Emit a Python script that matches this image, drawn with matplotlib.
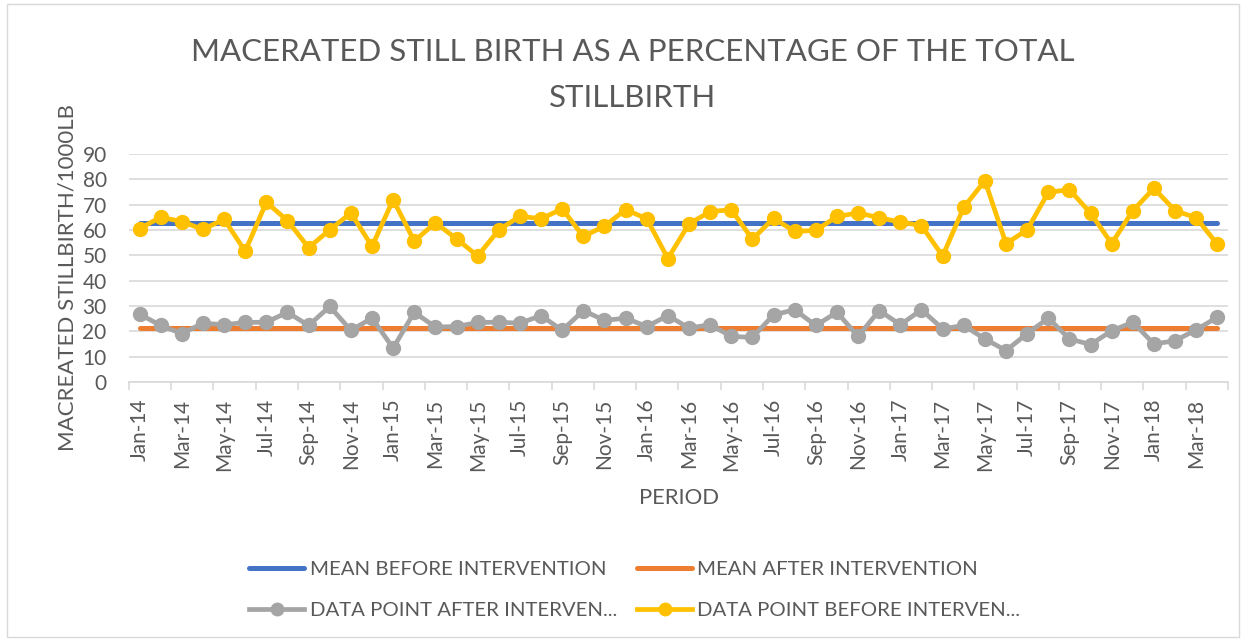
import numpy as np
import pandas as pd
import matplotlib
matplotlib.use('Agg')
import matplotlib.pyplot as plt
from matplotlib.patches import Rectangle

plt.rcParams['font.family'] = ['Lato', 'DejaVu Sans']

# data (Jan-14 .. Apr-18)
months = pd.date_range('2014-01-01', periods=52, freq='MS').strftime('%b-%y').tolist()

before = [60.5, 65.0, 63.3, 60.2, 64.2, 51.6, 70.9, 63.7, 53.0, 60.0,
          66.7, 53.5, 71.9, 55.6, 62.8, 56.5, 49.7, 60.0, 65.4, 64.4,
          68.3, 57.4, 61.5, 68.0, 64.4, 48.7, 62.4, 67.2, 68.0, 56.3,
          64.6, 59.4, 59.8, 65.3, 66.7, 64.8, 63.1, 61.7, 49.7, 68.9,
          79.4, 54.6, 60.0, 74.8, 75.9, 66.6, 54.6, 67.6, 76.4, 67.6,
          64.8, 54.3]
after = [26.8, 22.3, 19.1, 23.2, 22.6, 23.5, 23.6, 27.5, 22.3, 29.8,
         20.4, 25.2, 13.4, 27.5, 21.7, 21.9, 23.5, 23.6, 23.2, 26.2,
         20.4, 28.2, 24.3, 25.2, 21.9, 26.2, 21.3, 22.6, 18.0, 17.6,
         26.5, 28.5, 22.3, 27.5, 18.0, 28.2, 22.6, 28.5, 21.0, 22.3,
         17.0, 12.4, 19.1, 25.2, 17.0, 14.8, 20.2, 23.6, 15.0, 16.3,
         20.6, 25.6]
mean_before = 62.7
mean_after = 21.3

txt = '#595959'
fig = plt.figure(figsize=(12.46, 6.41), dpi=100)
fig.patches.append(Rectangle((0.006, 0.006), 0.988, 0.988, transform=fig.transFigure,
                             fill=False, edgecolor='#d9d9d9', linewidth=1))
ax = fig.add_axes([0.1035, 0.404, 0.882, 0.356])

x = np.arange(len(months))
l1, = ax.plot(x, [mean_before] * len(x), color='#4472C4', lw=3.6, solid_capstyle='round',
              zorder=3, label='MEAN BEFORE INTERVENTION')
l2, = ax.plot(x, [mean_after] * len(x), color='#ED7D31', lw=3.6, solid_capstyle='round',
              zorder=3, label='MEAN AFTER INTERVENTION')
l3, = ax.plot(x, after, color='#A5A5A5', lw=3.4, marker='o', ms=10,
              zorder=4, label='DATA POINT AFTER INTERVEN...')
l4, = ax.plot(x, before, color='#FFC000', lw=3.4, marker='o', ms=10,
              zorder=4, label='DATA POINT BEFORE INTERVEN...')

ax.set_xlim(-0.5, len(x) - 0.5)
ax.set_ylim(0, 90)
ax.set_yticks(range(0, 91, 10))
ax.grid(axis='y', color='#d9d9d9', lw=1.2)
ax.set_axisbelow(True)
for s in ['top', 'right', 'left']:
    ax.spines[s].set_visible(False)
ax.spines['bottom'].set_color('#d9d9d9')
ax.spines['bottom'].set_linewidth(1.2)

ax.set_xticks(x[::2])
ax.set_xticklabels(months[::2], rotation=90)
ax.set_xticks(np.arange(-0.5, len(x), 2), minor=True)
ax.tick_params(axis='x', which='major', length=0, pad=12, labelsize=15, labelcolor=txt)
ax.tick_params(axis='x', which='minor', length=6, color='#d9d9d9', width=1.2)
ax.tick_params(axis='y', length=0, pad=16, labelsize=15, labelcolor=txt)

ax.set_xlabel('PERIOD', fontsize=15.8, color=txt)
ax.xaxis.set_label_coords(0.5005, -0.465)
ax.set_ylabel('MACREATED STILLBIRTH/1000LB', fontsize=16, color=txt)
ax.yaxis.set_label_coords(-0.047, 0.46)

fig.text(0.508, 0.883, 'MACERATED STILL BIRTH AS A PERCENTAGE OF THE TOTAL\nSTILLBIRTH',
         ha='center', va='center', fontsize=22.5, color=txt, linespacing=1.8)

fig.legend(handles=[l1, l3, l2, l4], ncol=2, loc='center', bbox_to_anchor=(0.5095, 0.0796),
           frameon=False, fontsize=14.7, labelcolor=txt, handlelength=2.7,
           handletextpad=0.25, columnspacing=1.0, labelspacing=1.15, markerscale=0.9,
           borderpad=0)

fig.savefig('out.png', dpi=100)
